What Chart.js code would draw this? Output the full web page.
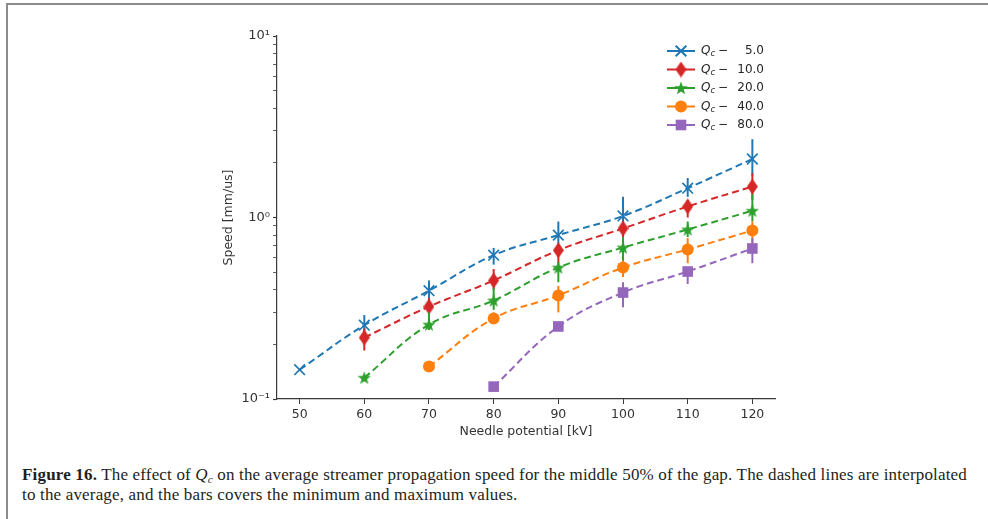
<!DOCTYPE html>
<html>
<head>
<meta charset="utf-8">
<script src="https://cdn.jsdelivr.net/npm/chart.js@4.4.1/dist/chart.umd.min.js"></script>
<style>
  body { margin: 0; background: #fff; }
  #wrap { position: relative; width: 988px; height: 519px; overflow: hidden; background: #fff; }
  #frameTop { position: absolute; left: 6px; top: 3px; width: 982px; height: 2px; background: #8c8c8c; }
  #frameLeft { position: absolute; left: 6px; top: 3px; width: 2px; height: 516px; background: #8c8c8c; }
  #chartBox { position: absolute; left: 0; top: 0; width: 988px; height: 450px; }
  #caption {
    position: absolute; left: 22px; top: 465px;
    font-family: "Liberation Serif", serif; font-size: 17px; line-height: 20px;
    color: #231f20; white-space: nowrap;
  }
  #caption span { display: block; }
  #caption sub { font-size: 11px; line-height: 0; vertical-align: -3px; }
</style>
</head>
<body>
<div id="wrap">
  <div id="frameTop"></div>
  <div id="frameLeft"></div>
  <div id="chartBox"><canvas id="chart" width="988" height="450"></canvas></div>
  <div id="caption"><span id="cap1"><b>Figure 16.</b> The effect of <i>Q</i><sub><i>c</i></sub> on the average streamer propagation speed for the middle 50% of the gap. The dashed lines are interpolated</span><span id="cap2">to the average, and the bars covers the minimum and maximum values.</span></div>
</div>
<script>
// needle potential [kV]
const potentials = [50, 60, 70, 80, 90, 100, 110, 120];
const qcLabels = ['5.0', '10.0', '20.0', '40.0', '80.0'];

// average speed [mm/us], null where there is no run
const speedQc5  = [0.145, 0.255, 0.395, 0.62, 0.80, 1.02, 1.45, 2.10];
const speedQc10 = [null, 0.218, 0.323, 0.45, 0.66, 0.87, 1.15, 1.48];
const speedQc20 = [null, 0.131, 0.257, 0.349, 0.53, 0.683, 0.859, 1.09];
const speedQc40 = [null, null, 0.151, 0.278, 0.372, 0.53, 0.667, 0.848];
const speedQc80 = [null, null, null, 0.117, 0.251, 0.386, 0.504, 0.675];

// min / max speed (error bars)
const minQc5  = [null, 0.23, 0.35, 0.55, 0.72, 0.90, 1.30, 1.70];
const maxQc5  = [null, 0.29, 0.45, 0.68, 0.95, 1.30, 1.65, 2.70];
const minQc10 = [null, 0.185, 0.28, 0.40, 0.56, 0.78, 1.00, 1.25];
const maxQc10 = [null, 0.245, 0.36, 0.52, 0.72, 0.95, 1.25, 1.75];
const minQc20 = [null, 0.127, 0.24, 0.31, 0.44, 0.57, 0.78, 0.95];
const maxQc20 = [null, 0.135, 0.30, 0.41, 0.565, 0.78, 0.95, 1.34];
const minQc40 = [null, null, 0.143, 0.26, 0.30, 0.47, 0.56, 0.70];
const maxQc40 = [null, null, 0.16, 0.30, 0.42, 0.58, 0.77, 0.95];
const minQc80 = [null, null, null, 0.117, 0.24, 0.32, 0.43, 0.56];
const maxQc80 = [null, null, null, 0.117, 0.265, 0.44, 0.53, 0.77];

const xTicks = [50, 60, 70, 80, 90, 100, 110, 120];
const yTicks = [0.1, 0.2, 0.3, 0.4, 0.5, 0.6, 0.7, 0.8, 0.9, 1, 2, 3, 4, 5, 6, 7, 8, 9, 10];
const yMajor = [0.1, 1, 10];
const yMajorLabels = ['10\u207B\u00B9', '10\u2070', '10\u00B9'];

const colors = ['#1f77b4', '#d62728', '#2ca02c', '#ff7f0e', '#9467bd'];

// stretch the first caption line to the width it has in the figure
(function fitCaption() {
  const line = document.getElementById('cap1');
  line.style.display = 'inline-block';
  const w = line.getBoundingClientRect().width;
  const n = line.textContent.length;
  const ls = (945 - w) / n;
  document.getElementById('caption').style.letterSpacing = ls.toFixed(3) + 'px';
  line.style.display = 'block';
})();

function makeDiamond(color) {
  const c = document.createElement('canvas');
  c.width = 11; c.height = 16;
  const g = c.getContext('2d');
  g.fillStyle = color;
  g.beginPath();
  g.moveTo(5.5, 0); g.lineTo(11, 8); g.lineTo(5.5, 16); g.lineTo(0, 8);
  g.closePath(); g.fill();
  return c;
}

function makeStar(color) {
  const c = document.createElement('canvas');
  c.width = 14; c.height = 14;
  const g = c.getContext('2d');
  g.fillStyle = color;
  g.beginPath();
  for (let k = 0; k < 10; k++) {
    const r = k % 2 === 0 ? 7 : 2.9;
    const a = -Math.PI / 2 + k * Math.PI / 5;
    const px = 7 + r * Math.cos(a), py = 7.5 + r * Math.sin(a);
    k === 0 ? g.moveTo(px, py) : g.lineTo(px, py);
  }
  g.closePath(); g.fill();
  return c;
}

const markers = [
  { pointStyle: 'crossRot', radius: 7.5, borderWidth: 1.7 },
  { pointStyle: makeDiamond(colors[1]), radius: 6, borderWidth: 0 },
  { pointStyle: makeStar(colors[2]), radius: 6, borderWidth: 0 },
  { pointStyle: 'circle', radius: 6, borderWidth: 0 },
  { pointStyle: 'rect', radius: 7.5, borderWidth: 0 }
];

const speeds = [speedQc5, speedQc10, speedQc20, speedQc40, speedQc80];
const mins = [minQc5, minQc10, minQc20, minQc40, minQc80];
const maxs = [maxQc5, maxQc10, maxQc20, maxQc40, maxQc80];

const datasets = speeds.map((s, i) => ({
  label: 'Qc - ' + qcLabels[i],
  data: potentials.map((p, j) => ({ x: p, y: s[j] })).filter(d => d.y !== null),
  ranges: potentials.map((p, j) => ({ x: p, lo: mins[i][j], hi: maxs[i][j] })).filter(d => d.lo !== null),
  borderColor: colors[i],
  backgroundColor: colors[i],
  borderWidth: 2,
  borderDash: [7, 4],
  tension: 0.4,
  pointStyle: markers[i].pointStyle,
  pointRadius: markers[i].radius,
  pointBorderWidth: markers[i].borderWidth,
  pointBackgroundColor: colors[i],
  pointBorderColor: colors[i],
  order: 4 - i
}));

const errorBars = {
  id: 'errorBars',
  beforeDatasetDraw(chart, args) {
    const ds = chart.data.datasets[args.index];
    const { x, y } = chart.scales;
    const ctx = chart.ctx;
    ctx.save();
    ctx.strokeStyle = ds.borderColor;
    ctx.lineWidth = 2;
    ds.ranges.forEach(r => {
      const px = x.getPixelForValue(r.x);
      ctx.beginPath();
      ctx.moveTo(px, y.getPixelForValue(r.lo));
      ctx.lineTo(px, y.getPixelForValue(r.hi));
      ctx.stroke();
    });
    ctx.restore();
  }
};

// matplotlib-style legend: solid line with the marker in the middle
const lineLegend = {
  id: 'lineLegend',
  afterDraw(chart) {
    const ctx = chart.ctx;
    const right = chart.chartArea.right;
    const top = chart.chartArea.top;
    ctx.save();
    chart.data.datasets.forEach((ds, i) => {
      const yy = top + 15 + i * 18.5;
      ctx.setLineDash([]);
      ctx.strokeStyle = ds.borderColor;
      ctx.fillStyle = ds.borderColor;
      ctx.lineWidth = 2;
      ctx.beginPath();
      ctx.moveTo(right - 108, yy);
      ctx.lineTo(right - 80, yy);
      ctx.stroke();
      Chart.helpers.drawPoint(ctx, {
        pointStyle: markers[i].pointStyle,
        radius: markers[i].radius,
        borderWidth: markers[i].borderWidth,
        rotation: 0
      }, right - 94, yy);

      ctx.fillStyle = '#262626';
      ctx.textBaseline = 'middle';
      ctx.textAlign = 'left';
      let tx = right - 74;
      ctx.font = 'italic 12px "DejaVu Sans"';
      ctx.fillText('Q', tx, yy);
      tx += ctx.measureText('Q').width;
      ctx.font = 'italic 8.5px "DejaVu Sans"';
      ctx.fillText('c', tx, yy + 3);
      tx += ctx.measureText('c').width + 3;
      ctx.font = '12px "DejaVu Sans"';
      ctx.fillText('\u2212', tx, yy);
      ctx.textAlign = 'right';
      ctx.fillText(qcLabels[i], right - 11, yy);
    });
    ctx.restore();
  }
};

const axisColor = '#3a3a3a';
const tickFont = { family: 'DejaVu Sans', size: 12.5 };

new Chart(document.getElementById('chart'), {
  type: 'line',
  data: { datasets },
  plugins: [errorBars, lineLegend],
  options: {
    responsive: false,
    animation: false,
    devicePixelRatio: 1,
    layout: { padding: { left: 221, right: 213, top: 36, bottom: 11 } },
    plugins: {
      legend: { display: false },
      tooltip: { enabled: false }
    },
    scales: {
      x: {
        type: 'linear',
        min: 46.5,
        max: 123.5,
        afterBuildTicks: s => { s.ticks = xTicks.map(v => ({ value: v })); },
        afterFit: s => { s.height = 40; },
        ticks: { font: tickFont, color: '#333', padding: 3, autoSkip: false, maxRotation: 0 },
        grid: { drawOnChartArea: false, drawTicks: true, tickLength: 5, color: axisColor },
        border: { display: true, color: axisColor, width: 1.2 },
        title: { display: true, text: 'Needle potential [kV]', font: tickFont, color: '#333', padding: 0 }
      },
      y: {
        type: 'logarithmic',
        min: 0.1,
        max: 10,
        afterBuildTicks: s => { s.ticks = yTicks.map(v => ({ value: v, major: yMajor.includes(v) })); },
        afterFit: s => { s.width = 56; },
        ticks: {
          font: { family: 'DejaVu Sans', size: 13 }, color: '#333', padding: 3, autoSkip: false,
          callback: v => {
            const k = yMajor.indexOf(v);
            return k >= 0 ? yMajorLabels[k] : '';
          }
        },
        grid: {
          drawOnChartArea: false, drawTicks: true, tickLength: 4, color: axisColor,
          tickWidth: c => (c.tick && c.tick.major ? 1.2 : 0.8)
        },
        border: { display: true, color: axisColor, width: 1.2 },
        title: { display: true, text: 'Speed [mm/us]', font: tickFont, color: '#333', padding: 0 }
      }
    }
  }
});
</script>
</body>
</html>
